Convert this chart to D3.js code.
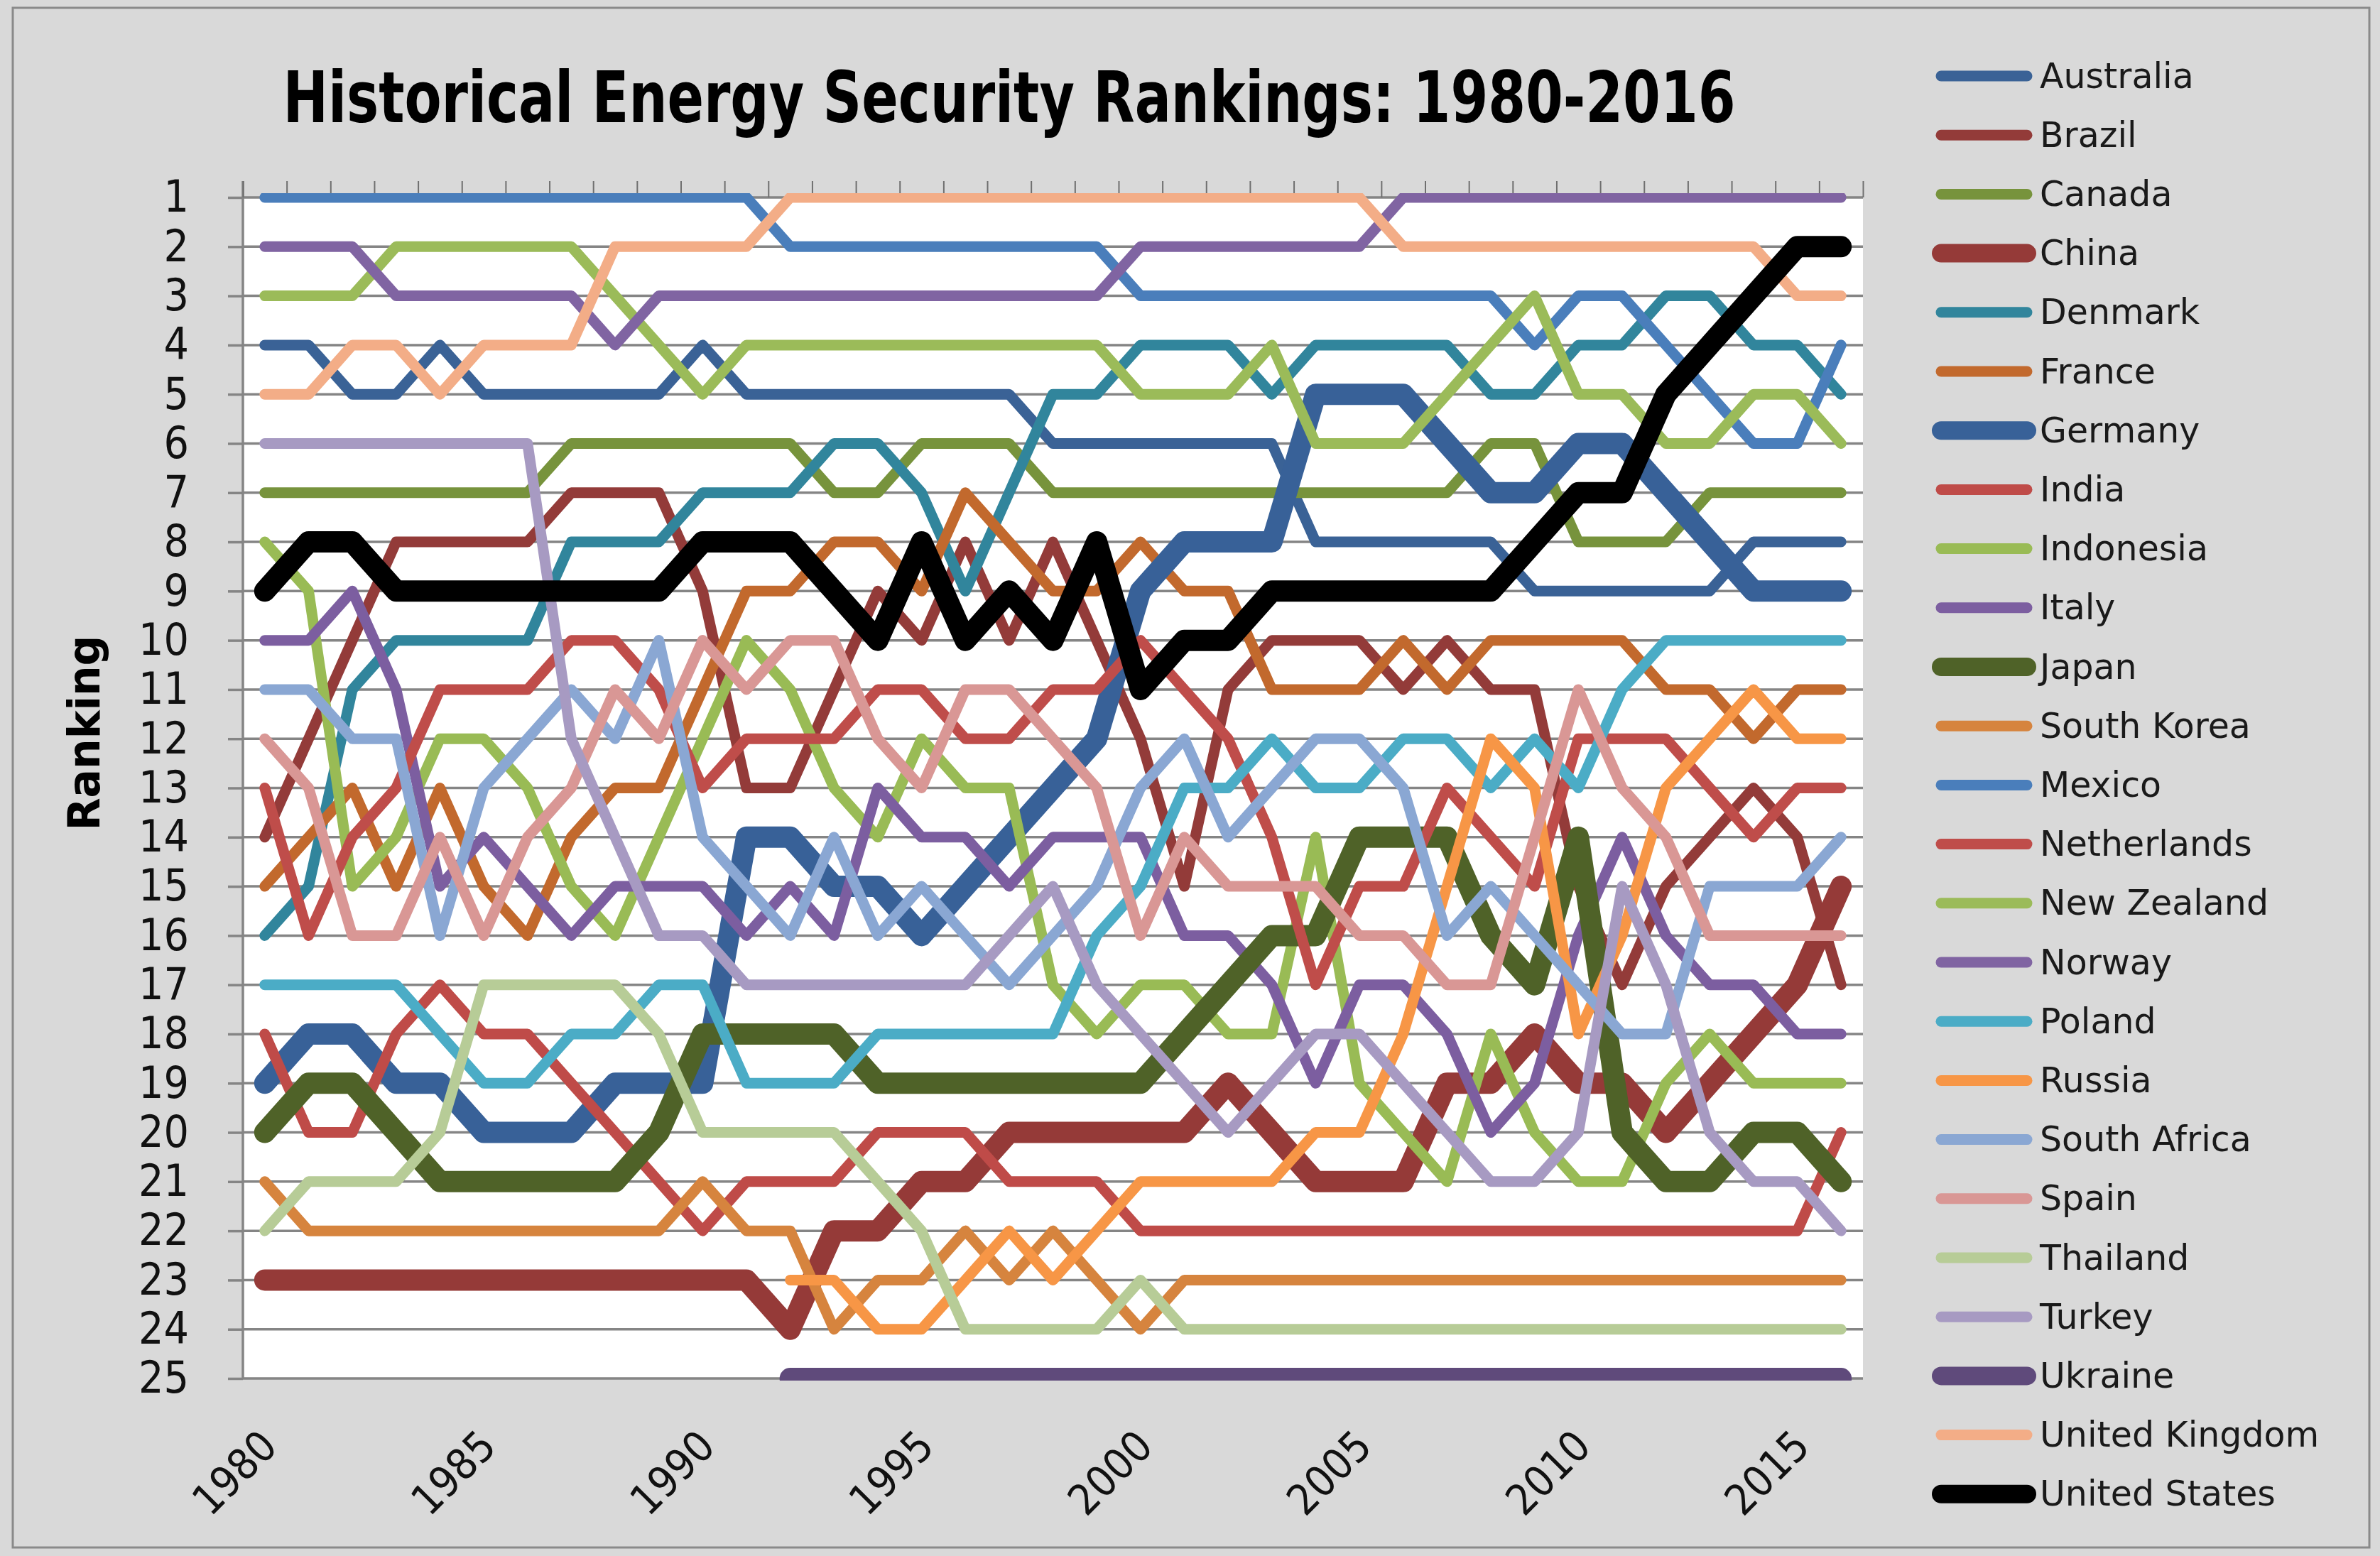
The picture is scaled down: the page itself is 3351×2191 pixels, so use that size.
<!DOCTYPE html>
<html>
<head>
<meta charset="utf-8">
<script src="https://cdn.jsdelivr.net/npm/d3@7"></script>
<style>
  html, body { margin: 0; padding: 0; background: #d9d9d9; }
  svg { display: block; }
</style>
</head>
<body>
<svg id="chart" width="3351" height="2191"></svg>
<script>
/* ── data: energy security rank per year (1 = best) ── */
const years = [1980, 1981, 1982, 1983, 1984, 1985, 1986, 1987, 1988, 1989,
               1990, 1991, 1992, 1993, 1994, 1995, 1996, 1997, 1998, 1999,
               2000, 2001, 2002, 2003, 2004, 2005, 2006, 2007, 2008, 2009,
               2010, 2011, 2012, 2013, 2014, 2015, 2016];

const countries = ['Australia', 'Brazil', 'Canada', 'China', 'Denmark', 'France', 'Germany',
                   'India', 'Indonesia', 'Italy', 'Japan', 'South Korea', 'Mexico', 'Netherlands',
                   'New Zealand', 'Norway', 'Poland', 'Russia', 'South Africa', 'Spain',
                   'Thailand', 'Turkey', 'Ukraine', 'United Kingdom', 'United States'];

const australia   = [4, 4, 5, 5, 4, 5, 5, 5, 5, 5, 4, 5, 5, 5, 5, 5, 5, 5, 6, 6, 6, 6, 6, 6, 8, 8, 8, 8, 8, 9, 9, 9, 9, 9, 8, 8, 8];
const brazil      = [14, 12, 10, 8, 8, 8, 8, 7, 7, 7, 9, 13, 13, 11, 9, 10, 8, 10, 8, 10, 12, 15, 11, 10, 10, 10, 11, 10, 11, 11, 15, 17, 15, 14, 13, 14, 17];
const canada      = [7, 7, 7, 7, 7, 7, 7, 6, 6, 6, 6, 6, 6, 7, 7, 6, 6, 6, 7, 7, 7, 7, 7, 7, 7, 7, 7, 7, 6, 6, 8, 8, 8, 7, 7, 7, 7];
const china       = [23, 23, 23, 23, 23, 23, 23, 23, 23, 23, 23, 23, 24, 22, 22, 21, 21, 20, 20, 20, 20, 20, 19, 20, 21, 21, 21, 19, 19, 18, 19, 19, 20, 19, 18, 17, 15];
const denmark     = [16, 15, 11, 10, 10, 10, 10, 8, 8, 8, 7, 7, 7, 6, 6, 7, 9, 7, 5, 5, 4, 4, 4, 5, 4, 4, 4, 4, 5, 5, 4, 4, 3, 3, 4, 4, 5];
const france      = [15, 14, 13, 15, 13, 15, 16, 14, 13, 13, 11, 9, 9, 8, 8, 9, 7, 8, 9, 9, 8, 9, 9, 11, 11, 11, 10, 11, 10, 10, 10, 10, 11, 11, 12, 11, 11];
const germany     = [19, 18, 18, 19, 19, 20, 20, 20, 19, 19, 19, 14, 14, 15, 15, 16, 15, 14, 13, 12, 9, 8, 8, 8, 5, 5, 5, 6, 7, 7, 6, 6, 7, 8, 9, 9, 9];
const india       = [18, 20, 20, 18, 17, 18, 18, 19, 20, 21, 22, 21, 21, 21, 20, 20, 20, 21, 21, 21, 22, 22, 22, 22, 22, 22, 22, 22, 22, 22, 22, 22, 22, 22, 22, 22, 20];
const indonesia   = [8, 9, 15, 14, 12, 12, 13, 15, 16, 14, 12, 10, 11, 13, 14, 12, 13, 13, 17, 18, 17, 17, 18, 18, 14, 19, 20, 21, 18, 20, 21, 21, 19, 18, 19, 19, 19];
const italy       = [10, 10, 9, 11, 15, 14, 15, 16, 15, 15, 15, 16, 15, 16, 13, 14, 14, 15, 14, 14, 14, 16, 16, 17, 19, 17, 17, 18, 20, 19, 16, 14, 16, 17, 17, 18, 18];
const japan       = [20, 19, 19, 20, 21, 21, 21, 21, 21, 20, 18, 18, 18, 18, 19, 19, 19, 19, 19, 19, 19, 18, 17, 16, 16, 14, 14, 14, 16, 17, 14, 20, 21, 21, 20, 20, 21];
const southKorea  = [21, 22, 22, 22, 22, 22, 22, 22, 22, 22, 21, 22, 22, 24, 23, 23, 22, 23, 22, 23, 24, 23, 23, 23, 23, 23, 23, 23, 23, 23, 23, 23, 23, 23, 23, 23, 23];
const mexico      = [1, 1, 1, 1, 1, 1, 1, 1, 1, 1, 1, 1, 2, 2, 2, 2, 2, 2, 2, 2, 3, 3, 3, 3, 3, 3, 3, 3, 3, 4, 3, 3, 4, 5, 6, 6, 4];
const netherlands = [13, 16, 14, 13, 11, 11, 11, 10, 10, 11, 13, 12, 12, 12, 11, 11, 12, 12, 11, 11, 10, 11, 12, 14, 17, 15, 15, 13, 14, 15, 12, 12, 12, 13, 14, 13, 13];
const newZealand  = [3, 3, 3, 2, 2, 2, 2, 2, 3, 4, 5, 4, 4, 4, 4, 4, 4, 4, 4, 4, 5, 5, 5, 4, 6, 6, 6, 5, 4, 3, 5, 5, 6, 6, 5, 5, 6];
const norway      = [2, 2, 2, 3, 3, 3, 3, 3, 4, 3, 3, 3, 3, 3, 3, 3, 3, 3, 3, 3, 2, 2, 2, 2, 2, 2, 1, 1, 1, 1, 1, 1, 1, 1, 1, 1, 1];
const poland      = [17, 17, 17, 17, 18, 19, 19, 18, 18, 17, 17, 19, 19, 19, 18, 18, 18, 18, 18, 16, 15, 13, 13, 12, 13, 13, 12, 12, 13, 12, 13, 11, 10, 10, 10, 10, 10];
const russia      = [null, null, null, null, null, null, null, null, null, null, null, null, 23, 23, 24, 24, 23, 22, 23, 22, 21, 21, 21, 21, 20, 20, 18, 15, 12, 13, 18, 16, 13, 12, 11, 12, 12];
const southAfrica = [11, 11, 12, 12, 16, 13, 12, 11, 12, 10, 14, 15, 16, 14, 16, 15, 16, 17, 16, 15, 13, 12, 14, 13, 12, 12, 13, 16, 15, 16, 17, 18, 18, 15, 15, 15, 14];
const spain       = [12, 13, 16, 16, 14, 16, 14, 13, 11, 12, 10, 11, 10, 10, 12, 13, 11, 11, 12, 13, 16, 14, 15, 15, 15, 16, 16, 17, 17, 14, 11, 13, 14, 16, 16, 16, 16];
const thailand    = [22, 21, 21, 21, 20, 17, 17, 17, 17, 18, 20, 20, 20, 20, 21, 22, 24, 24, 24, 24, 23, 24, 24, 24, 24, 24, 24, 24, 24, 24, 24, 24, 24, 24, 24, 24, 24];
const turkey      = [6, 6, 6, 6, 6, 6, 6, 12, 14, 16, 16, 17, 17, 17, 17, 17, 17, 16, 15, 17, 18, 19, 20, 19, 18, 18, 19, 20, 21, 21, 20, 15, 17, 20, 21, 21, 22];
const ukraine     = [null, null, null, null, null, null, null, null, null, null, null, null, 25, 25, 25, 25, 25, 25, 25, 25, 25, 25, 25, 25, 25, 25, 25, 25, 25, 25, 25, 25, 25, 25, 25, 25, 25];
const unitedKingdom = [5, 5, 4, 4, 5, 4, 4, 4, 2, 2, 2, 2, 1, 1, 1, 1, 1, 1, 1, 1, 1, 1, 1, 1, 1, 1, 2, 2, 2, 2, 2, 2, 2, 2, 2, 3, 3];
const unitedStates  = [9, 8, 8, 9, 9, 9, 9, 9, 9, 9, 8, 8, 8, 9, 10, 8, 10, 9, 10, 8, 11, 10, 10, 9, 9, 9, 9, 9, 9, 8, 7, 7, 5, 4, 3, 2, 2];

const rankTicks = [1, 2, 3, 4, 5, 6, 7, 8, 9, 10, 11, 12, 13, 14, 15, 16, 17, 18, 19, 20, 21, 22, 23, 24, 25];
const yearLabels = ['1980', '1985', '1990', '1995', '2000', '2005', '2010', '2015'];

/* ── styles ── */
const colors = ['#3a6296', '#933b39', '#77933c', '#953a38', '#31859c', '#c2692d', '#386198',
                '#bf4b48', '#99bb55', '#7c5ea0', '#4f6228', '#d6843e', '#4a7ebb', '#bf4d4a',
                '#9bbb59', '#8064a2', '#4bacc6', '#f79646', '#8aa7d3', '#d99795',
                '#b7cc97', '#a79ac2', '#5f4a7b', '#f3ad87', '#000000'];
const thick = new Set(['China', 'Germany', 'Japan', 'Ukraine', 'United States']);
const THIN_W = 15, THICK_W = 30;

const values = [australia, brazil, canada, china, denmark, france, germany, india, indonesia,
                italy, japan, southKorea, mexico, netherlands, newZealand, norway, poland,
                russia, southAfrica, spain, thailand, turkey, ukraine, unitedKingdom, unitedStates];

const series = countries.map((name, i) => ({ name, values: values[i], color: colors[i],
                                             width: thick.has(name) ? THICK_W : THIN_W }));

/* ── layout ── */
const W = 3351, H = 2191;
const PX0 = 342, PX1 = 2623, PY0 = 278, PY1 = 1941;
const GRID = '#858585';
const NARROW = '"Liberation Sans Narrow", "DejaVu Sans Condensed", "Liberation Sans", sans-serif';

const svg = d3.select('#chart');

svg.append('rect').attr('width', W).attr('height', H).attr('fill', '#d9d9d9');
svg.append('rect')
    .attr('x', 18).attr('y', 11).attr('width', 3318).attr('height', 2168)
    .attr('fill', 'none').attr('stroke', '#8a8a8a').attr('stroke-width', 3);

/* Title */
svg.append('text')
    .attr('x', 1421).attr('y', 172)
    .attr('text-anchor', 'middle')
    .attr('textLength', 2045).attr('lengthAdjust', 'spacingAndGlyphs')
    .style('font-family', NARROW).style('font-weight', 'bold').style('font-size', '100px')
    .attr('fill', '#000')
    .text('Historical Energy Security Rankings: 1980-2016');

/* Plot background */
svg.append('rect')
    .attr('x', PX0).attr('y', PY0).attr('width', PX1 - PX0).attr('height', PY1 - PY0)
    .attr('fill', '#ffffff');

const x = d3.scalePoint().domain(years).range([PX0, PX1]).padding(0.5);
const y = d3.scaleLinear().domain([1, 25]).range([PY0, PY1]);
const xEdge = d3.scaleLinear().domain([0, years.length]).range([PX0, PX1]);

/* Horizontal gridlines */
svg.append('g').selectAll('line').data(rankTicks).join('line')
    .attr('x1', PX0).attr('x2', PX1)
    .attr('y1', d => y(d)).attr('y2', d => y(d))
    .attr('stroke', GRID).attr('stroke-width', 3.5);

/* Left axis: ticks outside + labels */
const yAxis = svg.append('g')
    .attr('transform', `translate(${PX0},0)`)
    .call(d3.axisLeft(y).tickValues(rankTicks).tickSize(21).tickPadding(55).tickFormat(d => d));
yAxis.select('.domain').remove();
yAxis.selectAll('.tick line').attr('stroke', GRID).attr('stroke-width', 3.5);
yAxis.selectAll('.tick text')
    .style('font-family', NARROW).style('font-size', '62px').attr('fill', '#111');

svg.append('line')
    .attr('x1', PX0).attr('x2', PX0).attr('y1', 255).attr('y2', PY1)
    .attr('stroke', GRID).attr('stroke-width', 3.5);

/* Top category axis (ticks between years) */
const topAxis = svg.append('g')
    .attr('transform', `translate(0,${PY0})`)
    .call(d3.axisTop(xEdge).tickValues(d3.range(years.length + 1)).tickSize(23).tickFormat(''));
topAxis.select('.domain').remove();
topAxis.selectAll('.tick line').attr('stroke', '#6f6f6f').attr('stroke-width', 2);

/* Bottom year labels, rotated */
const xAxis = svg.append('g')
    .attr('transform', `translate(0,${PY1})`)
    .call(d3.axisBottom(x).tickValues(yearLabels.map(Number)).tickSize(0).tickFormat(d => String(d)));
xAxis.select('.domain').remove();
xAxis.selectAll('.tick text')
    .attr('x', 0).attr('y', 0).attr('dy', 0)
    .attr('text-anchor', 'end')
    .attr('transform', 'translate(20,99) rotate(-45)')
    .style('font-family', NARROW).style('font-size', '60px').attr('fill', '#111');

/* Y axis title */
svg.append('text')
    .attr('transform', 'translate(140,1032) rotate(-90)')
    .attr('text-anchor', 'middle')
    .attr('textLength', 275).attr('lengthAdjust', 'spacingAndGlyphs')
    .style('font-family', NARROW).style('font-weight', 'bold').style('font-size', '62px')
    .attr('fill', '#000')
    .text('Ranking');

/* Series lines, clipped to the plot area */
svg.append('defs').append('clipPath').attr('id', 'plot-clip')
    .append('rect')
    .attr('x', PX0).attr('y', PY0 - 6)
    .attr('width', PX1 - PX0).attr('height', PY1 - PY0 + 9);

const line = d3.line()
    .defined(d => d != null)
    .x((d, i) => x(years[i]))
    .y(d => y(d));

svg.append('g').attr('clip-path', 'url(#plot-clip)')
    .selectAll('path').data(series).join('path')
    .attr('d', s => line(s.values))
    .attr('fill', 'none')
    .attr('stroke', s => s.color)
    .attr('stroke-width', s => s.width)
    .attr('stroke-linejoin', 'round')
    .attr('stroke-linecap', 'round');

/* Legend */
const LEG_Y0 = 107, LEG_STEP = 83.2;
const legend = svg.append('g').selectAll('g').data(series).join('g')
    .attr('transform', (s, i) => `translate(0,${LEG_Y0 + i * LEG_STEP})`);
legend.append('line')
    .attr('x1', 2733).attr('x2', 2854).attr('y1', 0).attr('y2', 0)
    .attr('stroke', s => s.color)
    .attr('stroke-width', s => s.width === THICK_W ? 26 : 15)
    .attr('stroke-linecap', 'round');
legend.append('text')
    .attr('x', 2872).attr('y', 0)
    .attr('dominant-baseline', 'central')
    .style('font-family', '"DejaVu Sans", sans-serif').style('font-size', '49px')
    .attr('fill', '#1a1a1a')
    .text(s => s.name);
</script>
</body>
</html>
